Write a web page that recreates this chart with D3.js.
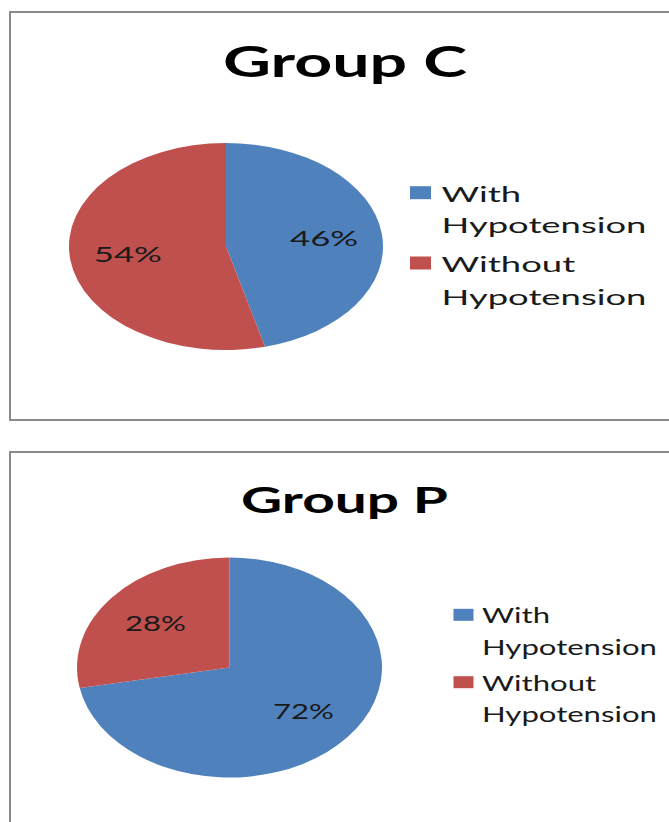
<!DOCTYPE html>
<html>
<head>
<meta charset="utf-8">
<script src="https://cdn.jsdelivr.net/npm/d3@7"></script>
<style>
  body { margin: 0; background: #fff; }
  text { font-family: Lato, "Open Sans", sans-serif; fill: #000; }
</style>
</head>
<body>
<svg id="chart" width="669" height="822"></svg>
<script>
// data
const categories = ["With Hypotension", "Without Hypotension"];
const legendLines = [["With", "Hypotension"], ["Without", "Hypotension"]];
const groupNames = ["Group C", "Group P"];
const groupCValues = [46, 54];
const groupPValues = [72, 28];
const sliceColors = ["#4F81BD", "#C0504D"];

// layout of the two chart boxes (the picture is stretched sideways)
const panels = [
  {
    title: groupNames[0], values: groupCValues,
    box: { x: 10, y: 12, w: 670, h: 408 },
    titleX: 345, titleY: 77, titleSize: 42, titleWidth: 244,
    cx: 226, cy: 246.5, rx: 157, ry: 103.5,
    legX: 410, textX: 441.5, legBase: [201.7, 233.3, 272, 305],
    sqW: 21, sqH: 13, legSize: 22, hypoWidth: 205, labelSize: 21
  },
  {
    title: groupNames[1], values: groupPValues,
    box: { x: 10, y: 452, w: 670, h: 400 },
    titleX: 344.5, titleY: 513, titleSize: 36, titleWidth: 207,
    cx: 229.5, cy: 667.5, rx: 152.5, ry: 110,
    legX: 453.5, textX: 482, legBase: [623.3, 655, 690.7, 721.7],
    sqW: 20, sqH: 12, legSize: 21, hypoWidth: 175, labelSize: 21
  }
];

const svg = d3.select("#chart");

// measure natural text width so it can be stretched like the original
function measure(str, size, weight) {
  const t = svg.append("text")
    .attr("font-size", size)
    .attr("font-weight", weight)
    .text(str);
  const w = t.node().getComputedTextLength();
  t.remove();
  return w;
}

function stretchedText(g, str, x, y, size, sx, opts = {}) {
  return g.append("text")
    .attr("transform", `translate(${x},${y}) scale(${sx},1)`)
    .attr("font-size", size)
    .attr("font-weight", opts.weight || "normal")
    .attr("text-anchor", opts.anchor || "start")
    .attr("dy", opts.dy || 0)
    .style("fill", opts.fill || "#000")
    .text(str);
}

const R = 100;
const pie = d3.pie().sort(null).value((d) => d);
const arc = d3.arc().innerRadius(0).outerRadius(R);
const labelArc = d3.arc().innerRadius(R * 0.63).outerRadius(R * 0.63);

panels.forEach((p) => {
  const g = svg.append("g");

  // chart border
  g.append("rect")
    .attr("x", p.box.x)
    .attr("y", p.box.y)
    .attr("width", p.box.w)
    .attr("height", p.box.h)
    .attr("fill", "#fff")
    .attr("stroke", "#8a8a8a")
    .attr("stroke-width", 2);

  // title
  const titleSx = p.titleWidth / measure(p.title, p.titleSize, "bold");
  stretchedText(g, p.title, p.titleX, p.titleY, p.titleSize, titleSx, {
    weight: "bold",
    anchor: "middle"
  });

  // pie slices, squashed into an ellipse
  const arcs = pie(p.values);
  g.append("g")
    .attr("transform", `translate(${p.cx},${p.cy}) scale(${p.rx / R},${p.ry / R})`)
    .selectAll("path")
    .data(arcs)
    .join("path")
    .attr("d", arc)
    .attr("fill", (d, i) => sliceColors[i]);

  const sx = p.hypoWidth / measure("Hypotension", p.legSize, "normal");

  // percentage labels
  arcs.forEach((d) => {
    const c = labelArc.centroid(d);
    stretchedText(
      g,
      d.data + "%",
      p.cx + (c[0] * p.rx) / R,
      p.cy + (c[1] * p.ry) / R,
      p.labelSize,
      sx,
      { anchor: "middle", dy: "0.35em", fill: "#1a1a1a" }
    );
  });

  // legend
  categories.forEach((cat, i) => {
    const b1 = p.legBase[i * 2];
    const b2 = p.legBase[i * 2 + 1];
    g.append("rect")
      .attr("x", p.legX)
      .attr("y", b1 - p.sqH - 2.5)
      .attr("width", p.sqW)
      .attr("height", p.sqH)
      .attr("fill", sliceColors[i]);
    stretchedText(g, legendLines[i][0], p.textX, b1, p.legSize, sx, { fill: "#1a1a1a" });
    stretchedText(g, legendLines[i][1], p.textX, b2, p.legSize, sx, { fill: "#1a1a1a" });
  });
});
</script>
</body>
</html>
